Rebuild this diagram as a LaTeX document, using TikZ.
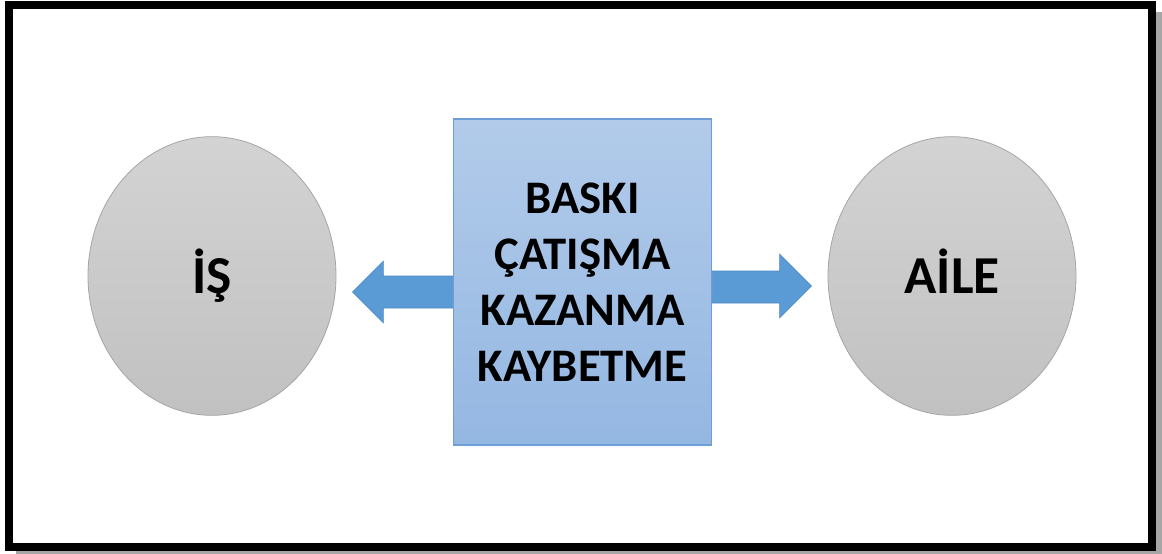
\documentclass[tikz,border=0pt]{standalone}
\usepackage{fontspec}
\setmainfont{Carlito}
\usepackage{tikz}
\usetikzlibrary{calc, positioning, shapes.geometric}
\definecolor{frameShadow}{gray}{0.65}
\definecolor{ovalTop}{HTML}{D3D3D3}
\definecolor{ovalBottom}{HTML}{C1C1C1}
\definecolor{ovalLine}{HTML}{A6A6A6}
\definecolor{boxTop}{HTML}{B2CBEA}
\definecolor{boxBottom}{HTML}{94B7E2}
\definecolor{boxLine}{HTML}{6F9ED6}
\definecolor{arrowBlue}{HTML}{5B9BD5}
\definecolor{arrowLine}{HTML}{4A88C6}

\begin{document}
\begin{tikzpicture}[x=0.75pt, y=-0.75pt,
    oval/.style={ellipse, draw=ovalLine, line width=0.6pt, top color=ovalTop, bottom color=ovalBottom,
        minimum width=186pt, minimum height=209pt, inner sep=0pt, text depth=7.5pt,
        font=\fontsize{40}{48}\selectfont\bfseries},
    textbox/.style={rectangle, draw=boxLine, line width=0.8pt, top color=boxTop, bottom color=boxBottom,
        minimum width=194pt, minimum height=244.5pt, align=center, font=\fontsize{35}{42}\selectfont\bfseries},
    blockarrow/.style={fill=arrowBlue, draw=arrowLine, line width=0.4pt},
    frame/.style={draw=black, line width=6pt}]
    \useasboundingbox (0,0) rectangle (1162,553);

    % outer frame with shadow
    \draw[frameShadow, line width=4pt] (1159,12) -- (1159,552) -- (16,552);
    \draw[frame] (9,5) rectangle (1152,547);

    \node[oval] (is) at (212,276) {İŞ};
    \node[oval] (aile) at (952,276) {AİLE};
    \node[textbox] (box) at (582.5,282) {BASKI\\ÇATIŞMA\\KAZANMA\\KAYBETME};

    \coordinate (ltip) at ($(is.east)+(16,16)$);
    \coordinate (rtip) at ($(aile.west)+(-16,10)$);

    \draw[blockarrow] (ltip) -- ++(31,-31) -- ++(0,15) -- ($(box.west)+(0,-6)$) -- ++(0,32)
        -- ($(ltip)+(31,16)$) -- ++(0,15) -- cycle;
    \draw[blockarrow] (rtip) -- ++(-32,-32) -- ++(0,17) -- ($(box.east)+(0,-11)$) -- ++(0,32)
        -- ($(rtip)+(-32,17)$) -- ++(0,15) -- cycle;
\end{tikzpicture}
\end{document}
